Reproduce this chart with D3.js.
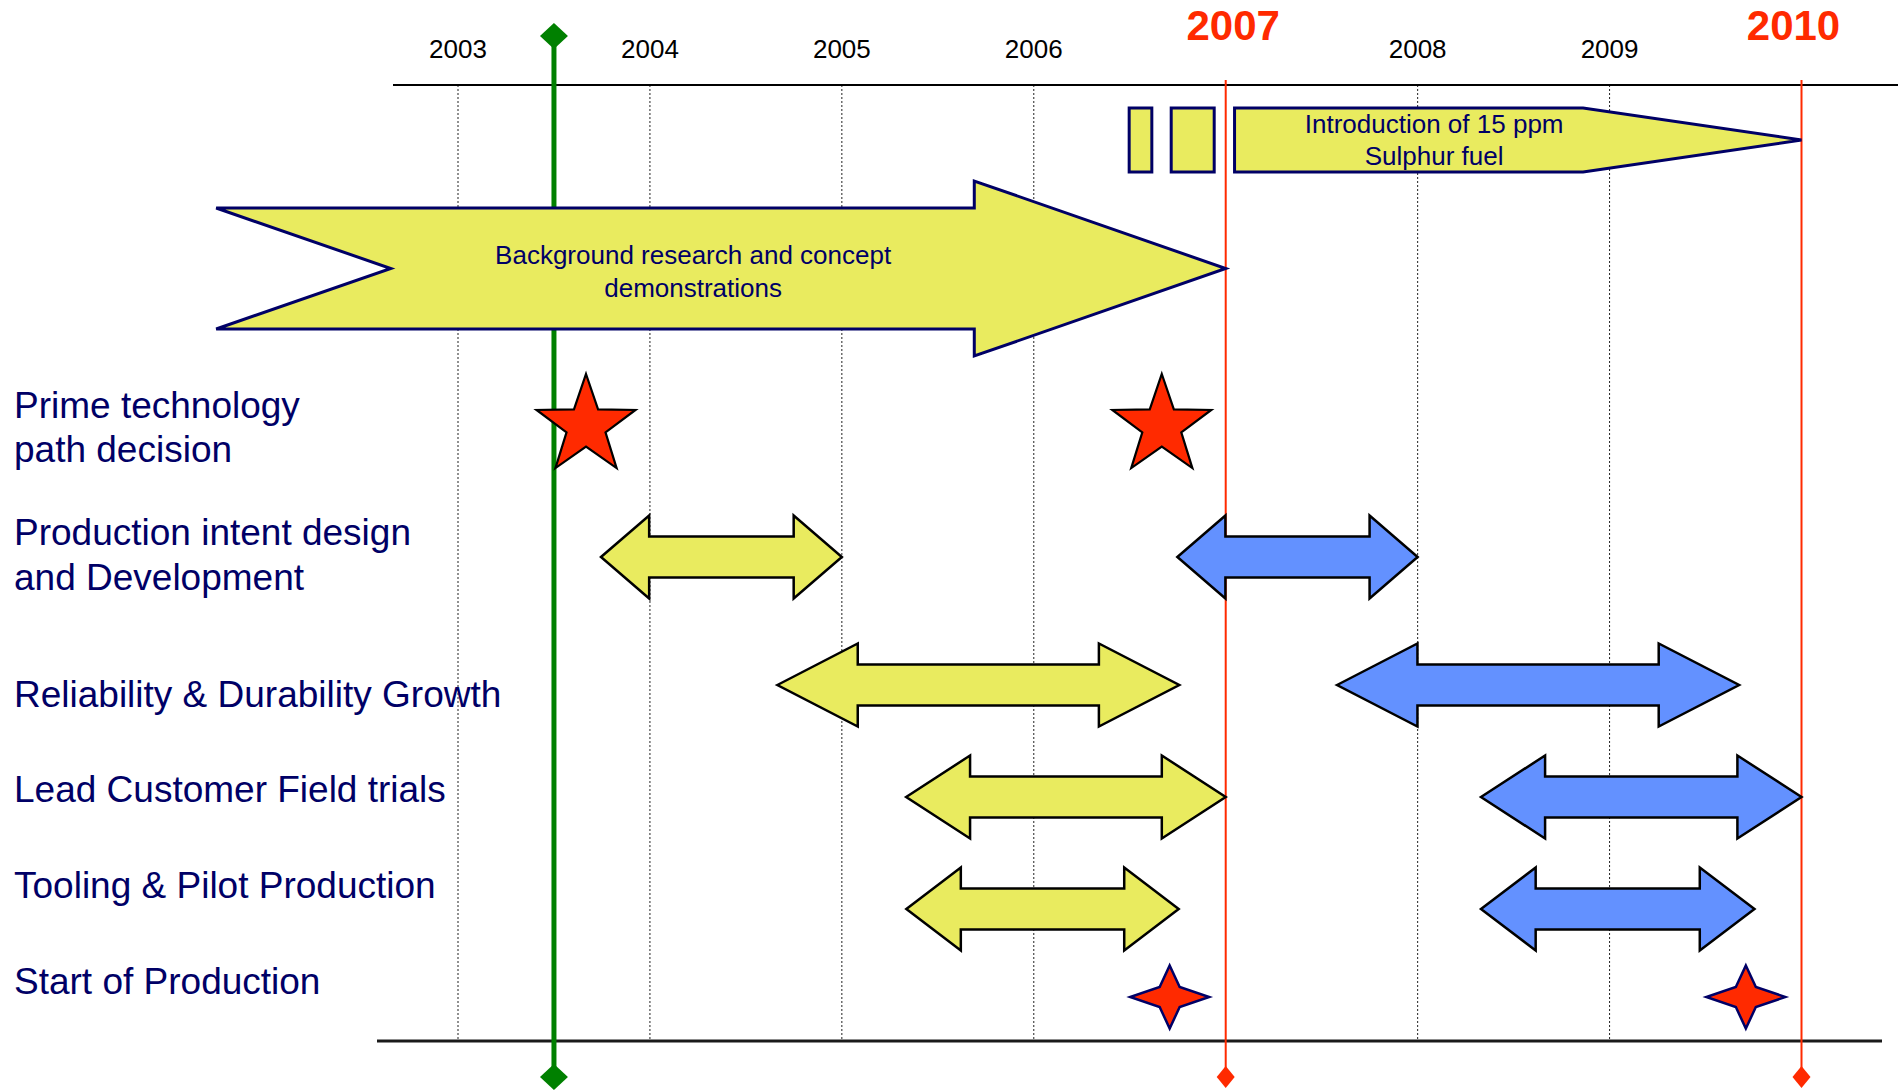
<!DOCTYPE html>
<html>
<head>
<meta charset="utf-8">
<script src="https://cdn.jsdelivr.net/npm/d3@7"></script>
<style>
  html, body { margin: 0; padding: 0; background: #fff; overflow: hidden; }
  text { font-family: "Liberation Sans", Arial, sans-serif; }
</style>
</head>
<body>
<svg id="chart" width="1902" height="1090"></svg>
<script>
// ---- Programme data -------------------------------------------------------
const tickYears = [2003, 2004, 2005, 2006, 2007, 2008, 2009, 2010];
const keyYears = [2007, 2010];            // emission-limit years, marked in red
const currentDate = 2003.5;               // green "we are here" marker

const activities = [
  "Prime technology\npath decision",
  "Production intent design\nand Development",
  "Reliability & Durability Growth",
  "Lead Customer Field trials",
  "Tooling & Pilot Production",
  "Start of Production"
];

// Background research arrow: tail, tail notch, head base, tip
const researchArrow = [2001.74, 2002.65, 2005.69, 2007.0];
const researchLabel = ["Background research and concept", "demonstrations"];
const researchLabelAt = 2004.225;

// Low-sulphur fuel roll-out: lead-in blocks, then arrow start, body end, tip
const fuelBlocks = [[2006.497, 2006.615], [2006.716, 2006.94]];
const fuelArrow = [2007.046, 2008.862, 2010.0];
const fuelLabel = ["Introduction of 15 ppm", "Sulphur fuel"];
const fuelLabelAt = 2008.086;

// Technology path decisions
const decisionDates = [2003.667, 2006.667];

// Activity spans for the two phases (2007 and 2010 programmes)
const spanActivities = [
  "Production intent design\nand Development",
  "Reliability & Durability Growth",
  "Lead Customer Field trials",
  "Tooling & Pilot Production"
];
const phase1Start = [2003.745, 2004.664, 2005.335, 2005.336];
const phase1End   = [2005.0,   2006.758, 2007.0,   2006.755];
const phase2Start = [2006.748, 2007.58,  2008.33,  2008.33];
const phase2End   = [2008.0,   2009.675, 2010.0,   2009.755];

// Start of production milestones
const productionStart = [2006.708, 2009.71];

// ---- Layout ---------------------------------------------------------------
const NAVY = "#000066", RED = "#ff2a00", GREEN = "#008000";
const YELLOW = "#e9eb5f", BLUE = "#6391ff";

const x = d3.scaleLinear().domain([2003, 2010]).range([458, 1801.5]);
const rowY = d3.scaleOrdinal().domain(activities).range([425, 557, 685, 797, 909, 997]);
const labelBaselines = d3.scaleOrdinal().domain(activities)
  .range([[418, 462], [545, 590], [707], [802], [898], [994]]);

const axisTop = 85, axisBottom = 1041;

const svg = d3.select("#chart");

// dotted year gridlines
svg.append("g").selectAll("line").data(tickYears.filter(y => !keyYears.includes(y)))
  .join("line")
  .attr("x1", d => x(d)).attr("x2", d => x(d))
  .attr("y1", axisTop).attr("y2", axisBottom)
  .attr("stroke", "#222").attr("stroke-width", 1).attr("stroke-dasharray", "2,2");

// top and bottom rules
svg.append("line").attr("x1", 393).attr("x2", 1898).attr("y1", axisTop).attr("y2", axisTop)
  .attr("stroke", "#000").attr("stroke-width", 2);
svg.append("line").attr("x1", 377).attr("x2", 1882).attr("y1", axisBottom).attr("y2", axisBottom)
  .attr("stroke", "#1a1a1a").attr("stroke-width", 3);

// year labels
svg.append("g").selectAll("text").data(tickYears.filter(y => !keyYears.includes(y)))
  .join("text")
  .attr("x", d => x(d)).attr("y", 58)
  .attr("text-anchor", "middle").attr("font-size", 26).attr("fill", "#000")
  .text(d => d);

svg.append("g").selectAll("text").data(keyYears)
  .join("text")
  .attr("x", (d, i) => x(d) + (i === 0 ? 7.5 : -8)).attr("y", 40)
  .attr("text-anchor", "middle").attr("font-size", 42).attr("font-weight", "bold")
  .attr("fill", RED)
  .text(d => d);

// red key-year lines with diamond ends
const keyG = svg.append("g");
keyG.selectAll("line").data(keyYears).join("line")
  .attr("x1", d => x(d)).attr("x2", d => x(d))
  .attr("y1", 80).attr("y2", 1077)
  .attr("stroke", RED).attr("stroke-width", 2);
keyG.selectAll("path").data(keyYears).join("path")
  .attr("d", d => {
    const cx = x(d), cy = 1077;
    return `M${cx},${cy - 11}L${cx + 9},${cy}L${cx},${cy + 11}L${cx - 9},${cy}Z`;
  })
  .attr("fill", RED);

// five-point star outline
function star5(cx, cy, R, r) {
  const pts = [];
  for (let i = 0; i < 10; i++) {
    const a = -Math.PI / 2 + i * Math.PI / 5;
    const rad = i % 2 === 0 ? R : r;
    pts.push([cx + rad * Math.cos(a), cy + rad * Math.sin(a)]);
  }
  return "M" + pts.map(p => p.join(",")).join("L") + "Z";
}

// green current-date marker
const gx = x(currentDate);
svg.append("line").attr("x1", gx).attr("x2", gx).attr("y1", 36).attr("y2", 1077)
  .attr("stroke", GREEN).attr("stroke-width", 5);
[36, 1077].forEach(cy => {
  svg.append("path")
    .attr("d", `M${gx},${cy - 13}L${gx + 14},${cy}L${gx},${cy + 13}L${gx - 14},${cy}Z`)
    .attr("fill", GREEN);
});

// path decision stars
svg.append("g").selectAll("path").data(decisionDates).join("path")
  .attr("d", d => star5(x(d), rowY(activities[0]) + 1, 52, 20.5))
  .attr("fill", RED).attr("stroke", "#000").attr("stroke-width", 2.2);

// background research arrow
{
  const [t, n, hb, tip] = researchArrow.map(x);
  const top = 208, bot = 329, cy = 268.5, hTop = 181, hBot = 356;
  svg.append("path")
    .attr("d", `M${t},${top}L${hb},${top}L${hb},${hTop}L${tip},${cy}L${hb},${hBot}L${hb},${bot}L${t},${bot}L${n},${cy}Z`)
    .attr("fill", YELLOW).attr("stroke", NAVY).attr("stroke-width", 3);
  svg.append("g").selectAll("text").data(researchLabel).join("text")
    .attr("x", x(researchLabelAt)).attr("y", (d, i) => 264 + i * 33)
    .attr("text-anchor", "middle").attr("font-size", 26).attr("fill", NAVY)
    .text(d => d);
}

// fuel introduction blocks and arrow
{
  const top = 108, bot = 172, cy = 140;
  svg.append("g").selectAll("rect").data(fuelBlocks).join("rect")
    .attr("x", d => x(d[0])).attr("width", d => x(d[1]) - x(d[0]))
    .attr("y", top).attr("height", bot - top)
    .attr("fill", YELLOW).attr("stroke", NAVY).attr("stroke-width", 3);
  const [s, e, tip] = fuelArrow.map(x);
  svg.append("path")
    .attr("d", `M${s},${top}L${e},${top}L${tip},${cy}L${e},${bot}L${s},${bot}Z`)
    .attr("fill", YELLOW).attr("stroke", NAVY).attr("stroke-width", 3);
  svg.append("g").selectAll("text").data(fuelLabel).join("text")
    .attr("x", x(fuelLabelAt)).attr("y", (d, i) => 133 + i * 32)
    .attr("text-anchor", "middle").attr("font-size", 26).attr("fill", NAVY)
    .text(d => d);
}

// double-headed activity arrows
function doubleArrow(x0, x1, cy) {
  const h = 0.2 * (x1 - x0), HH = 41.5, SH = 20.5;
  return `M${x0},${cy}L${x0 + h},${cy - HH}L${x0 + h},${cy - SH}L${x1 - h},${cy - SH}` +
         `L${x1 - h},${cy - HH}L${x1},${cy}L${x1 - h},${cy + HH}L${x1 - h},${cy + SH}` +
         `L${x0 + h},${cy + SH}L${x0 + h},${cy + HH}Z`;
}
const phases = [
  { start: phase1Start, end: phase1End, fill: YELLOW },
  { start: phase2Start, end: phase2End, fill: BLUE }
];
phases.forEach(p => {
  svg.append("g").selectAll("path").data(spanActivities).join("path")
    .attr("d", (a, i) => doubleArrow(x(p.start[i]), x(p.end[i]), rowY(a)))
    .attr("fill", p.fill).attr("stroke", "#000").attr("stroke-width", 2.5);
});

// four-point stars for start of production
svg.append("g").selectAll("path").data(productionStart).join("path")
  .attr("d", d => {
    const cx = x(d), cy = rowY(activities[5]);
    const rx = 39.5, ry = 31.5, ix = 10, iy = 10;
    return `M${cx},${cy - ry}L${cx + ix},${cy - iy}L${cx + rx},${cy}L${cx + ix},${cy + iy}` +
           `L${cx},${cy + ry}L${cx - ix},${cy + iy}L${cx - rx},${cy}L${cx - ix},${cy - iy}Z`;
  })
  .attr("fill", RED).attr("stroke", NAVY).attr("stroke-width", 2.5);

// activity labels
const lab = svg.append("g");
activities.forEach(a => {
  const lines = a.split("\n");
  const ys = labelBaselines(a);
  lines.forEach((ln, i) => {
    lab.append("text").attr("x", 14).attr("y", ys[i])
      .attr("font-size", 37).attr("fill", NAVY).text(ln);
  });
});
</script>
</body>
</html>
